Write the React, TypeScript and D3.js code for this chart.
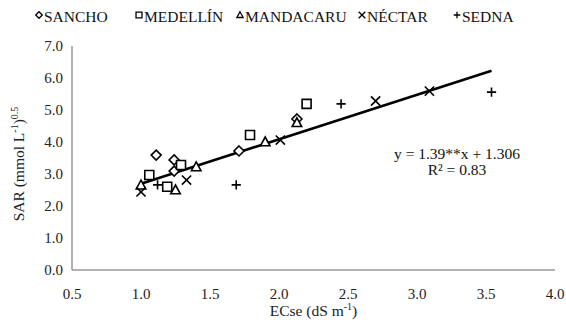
import React from 'react';
import * as d3 from 'd3';

// values
const series = ['SANCHO', 'MEDELLÍN', 'MANDACARU', 'NÉCTAR', 'SEDNA'];
const markers = ['diamond', 'square', 'triangle', 'x', 'plus'];

const sanchoX = [1.11, 1.24, 1.24, 1.71, 2.13];
const sanchoY = [3.59, 3.44, 3.09, 3.72, 4.72];
const medellinX = [1.06, 1.19, 1.29, 1.79, 2.2];
const medellinY = [2.97, 2.6, 3.28, 4.22, 5.19];
const mandacaruX = [1.0, 1.25, 1.4, 1.9, 2.13];
const mandacaruY = [2.65, 2.5, 3.22, 4.0, 4.6];
const nectarX = [1.0, 1.33, 2.01, 2.7, 3.09];
const nectarY = [2.44, 2.81, 4.06, 5.28, 5.59];
const sednaX = [1.12, 1.69, 2.45, 3.54];
const sednaY = [2.66, 2.66, 5.19, 5.56];

const xTicks = [0.5, 1.0, 1.5, 2.0, 2.5, 3.0, 3.5, 4.0];
const yTicks = [0, 1, 2, 3, 4, 5, 6, 7];

const slope = 1.39;
const intercept = 1.306;
const fitRange = [1.0, 3.54];

const W = 566;
const H = 324;
const margin = { top: 46, right: 9, bottom: 54, left: 72 };
const serif = '"Liberation Serif", "DejaVu Serif", serif';

const seriesData = [
  [sanchoX, sanchoY],
  [medellinX, medellinY],
  [mandacaruX, mandacaruY],
  [nectarX, nectarY],
  [sednaX, sednaY],
];

const markerPath = (type: string, s: number) => {
  const p = d3.path();
  if (type === 'diamond') {
    p.moveTo(0, -s); p.lineTo(s, 0); p.lineTo(0, s); p.lineTo(-s, 0); p.closePath();
  } else if (type === 'square') {
    p.rect(-s * 0.9, -s * 0.9, s * 1.8, s * 1.8);
  } else if (type === 'triangle') {
    p.moveTo(0, -s); p.lineTo(s * 0.95, s * 0.75); p.lineTo(-s * 0.95, s * 0.75); p.closePath();
  } else if (type === 'x') {
    p.moveTo(-s, -s); p.lineTo(s, s); p.moveTo(s, -s); p.lineTo(-s, s);
  } else {
    p.moveTo(-s, 0); p.lineTo(s, 0); p.moveTo(0, -s); p.lineTo(0, s);
  }
  return p.toString();
};

const App = () => {
  const x = d3.scaleLinear().domain([0.5, 4.0]).range([margin.left, W - margin.right - 2]);
  const y = d3.scaleLinear().domain([0, 7]).range([H - margin.bottom, margin.top]);
  const fmt = d3.format('.1f');

  const line = d3.line<number>().x((d) => x(d)).y((d) => y(slope * d + intercept));

  const legendX = [35, 135, 236, 358, 453];

  return (
    <svg
      width={W}
      height={H}
      style={{ position: 'absolute', left: 0, top: 0, background: '#fff', fontFamily: serif }}
    >
      {/* legend */}
      {series.map((name, i) => (
        <g key={name} transform={`translate(${legendX[i]},17)`}>
          <path
            d={markerPath(markers[i], 3.3)}
            transform="translate(4,-2)"
            fill={markers[i] === 'x' || markers[i] === 'plus' ? 'none' : '#fff'}
            stroke="#000"
            strokeWidth={1.3}
          />
          <text x={9} y={5} fontSize={15.5} fill="#111" style={{ fontFamily: serif }}>{name}</text>
        </g>
      ))}

      {/* axes */}
      <line x1={x(0.5)} x2={x(0.5)} y1={y(0)} y2={y(7)} stroke="#999" strokeWidth={1.5} />
      <line x1={x(0.5)} x2={x(4.0)} y1={y(0)} y2={y(0)} stroke="#999" strokeWidth={1.5} />

      {yTicks.map((t) => (
        <text key={t} x={x(0.5) - 9} y={y(t)} dy="0.35em" textAnchor="end" fontSize={15} fill="#222" style={{ fontFamily: serif }}>
          {fmt(t)}
        </text>
      ))}
      {xTicks.map((t) => (
        <text key={t} x={x(t)} y={y(0) + 24} dy="0.35em" textAnchor="middle" fontSize={15} fill="#222" style={{ fontFamily: serif }}>
          {fmt(t)}
        </text>
      ))}

      <text x={(x(0.5) + x(4.0)) / 2} y={316} textAnchor="middle" fontSize={15.5} fill="#222" style={{ fontFamily: serif }}>
        ECse (dS m<tspan dy="-6" fontSize={10}>-1</tspan><tspan dy="6">)</tspan>
      </text>
      <text
        transform={`translate(24,${(y(0) + y(7)) / 2 + 6}) rotate(-90)`}
        textAnchor="middle"
        fontSize={15.5}
        fill="#222"
        style={{ fontFamily: serif }}
      >
        SAR (mmol L<tspan dy="-6" fontSize={10}>-1</tspan><tspan dy="6">)</tspan>
        <tspan dy="-6" fontSize={10}>0.5</tspan>
      </text>

      {/* regression line */}
      <path d={line(fitRange) || ''} fill="none" stroke="#000" strokeWidth={2.6} />

      {/* points */}
      {seriesData.map(([xs, ys], i) =>
        xs.map((v, j) => (
          <path
            key={`${i}-${j}`}
            d={markerPath(markers[i], markers[i] === 'x' || markers[i] === 'plus' ? 4.6 : 5)}
            transform={`translate(${x(v)},${y(ys[j])})`}
            fill={markers[i] === 'x' || markers[i] === 'plus' ? 'none' : '#fff'}
            stroke="#000"
            strokeWidth={1.6}
          />
        ))
      )}

      {/* equation */}
      <text x={457} y={159} textAnchor="middle" fontSize={15.5} fill="#111" style={{ fontFamily: serif }}>
        y = 1.39**x + 1.306
      </text>
      <text x={457} y={175} textAnchor="middle" fontSize={15.5} fill="#111" style={{ fontFamily: serif }}>
        R² = 0.83
      </text>
    </svg>
  );
};

export default App;
